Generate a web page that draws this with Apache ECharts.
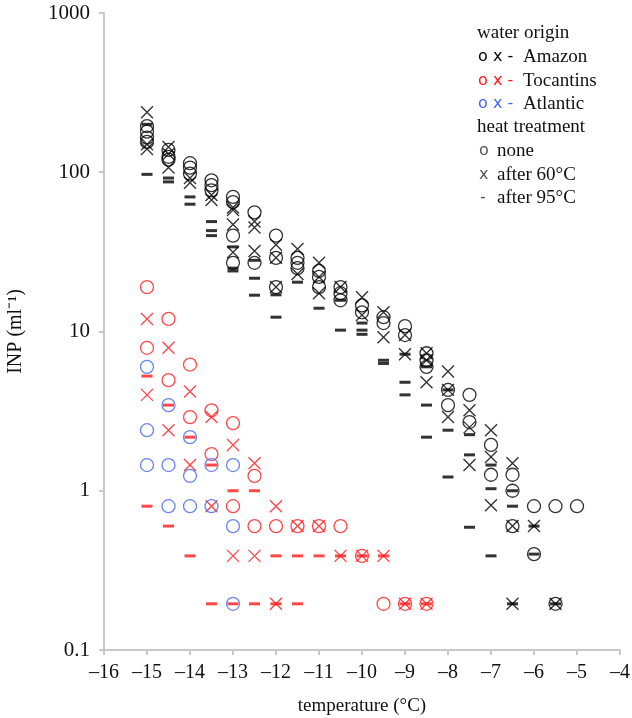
<!DOCTYPE html>
<html>
<head>
<meta charset="utf-8">
<script src="https://cdn.jsdelivr.net/npm/echarts@6/dist/echarts.min.js"></script>
<style>
  html, body { margin: 0; padding: 0; background: #fff; }
  #chart { width: 632px; height: 718px; }
</style>
</head>
<body>
<div id="chart"></div>
<script>
// INP (per ml) vs temperature, [temperature, INP]
var amazonNone = [
    [-15, 195], [-15, 180], [-15, 165], [-15, 155],
    [-14.5, 138], [-14.5, 125], [-14.5, 120],
    [-14, 114], [-14, 107], [-14, 98],
    [-13.5, 89], [-13.5, 83], [-13.5, 77],
    [-13, 70], [-13, 65], [-13, 40], [-13, 27],
    [-12.5, 56], [-12.5, 27],
    [-12, 40], [-12, 29], [-12, 19],
    [-11.5, 29], [-11.5, 27], [-11.5, 25],
    [-11, 24], [-11, 22], [-11, 19],
    [-10.5, 19], [-10.5, 17.4], [-10.5, 15.7],
    [-10, 14.6], [-10, 13.2],
    [-9.5, 12.3], [-9.5, 11.3],
    [-9, 10.8], [-9, 9.5],
    [-8.5, 7.3], [-8.5, 6.6], [-8.5, 6.0],
    [-8, 4.3], [-8, 3.45],
    [-7.5, 4.0], [-7.5, 2.7],
    [-7, 1.94], [-7, 1.26],
    [-6.5, 1.26], [-6.5, 1.0], [-6.5, 0.6],
    [-6, 0.8], [-6, 0.4],
    [-5.5, 0.8], [-5.5, 0.195],
    [-5, 0.8]
];
var amazon60 = [
    [-15, 238], [-15, 150], [-15, 140],
    [-14.5, 144], [-14.5, 130], [-14.5, 107],
    [-14, 92], [-14, 86],
    [-13.5, 72], [-13.5, 67],
    [-13, 60], [-13, 58], [-13, 47], [-13, 31.5],
    [-12.5, 49], [-12.5, 45], [-12.5, 32],
    [-12, 35], [-12, 29], [-12, 19],
    [-11.5, 33], [-11.5, 23],
    [-11, 27], [-11, 22], [-11, 17.4],
    [-10.5, 19],
    [-10, 16.4], [-10, 12.7],
    [-9.5, 13.2], [-9.5, 9.2],
    [-9, 9.5], [-9, 7.2],
    [-8.5, 7.3], [-8.5, 6.6], [-8.5, 4.8],
    [-8, 5.6], [-8, 4.3], [-8, 2.9],
    [-7.5, 3.2], [-7.5, 2.5], [-7.5, 1.45],
    [-7, 2.4], [-7, 1.63], [-7, 0.81],
    [-6.5, 1.49], [-6.5, 0.6], [-6.5, 0.195],
    [-6, 0.6],
    [-5.5, 0.195]
];
var amazon95 = [
    [-15, 200], [-15, 97],
    [-14.5, 92], [-14.5, 87],
    [-14, 70], [-14, 63],
    [-13.5, 49], [-13.5, 43], [-13.5, 40],
    [-13, 34], [-13, 25], [-13, 24],
    [-12.5, 28], [-12.5, 21.6], [-12.5, 16.9],
    [-12, 17], [-12, 12.3],
    [-11.5, 20.4],
    [-11, 14],
    [-10.5, 15.7], [-10.5, 10.2],
    [-10, 11.3], [-10, 10.2], [-10, 9.6],
    [-9.5, 6.6], [-9.5, 6.3],
    [-9, 7.2], [-9, 4.8], [-9, 4.0],
    [-8.5, 6.0], [-8.5, 3.45], [-8.5, 2.17],
    [-8, 4.3], [-8, 2.4], [-8, 1.22],
    [-7.5, 2.25], [-7.5, 1.68], [-7.5, 0.59],
    [-7, 1.45], [-7, 1.03], [-7, 0.39],
    [-6.5, 1.0], [-6.5, 0.8], [-6.5, 0.195],
    [-6, 0.6], [-6, 0.4],
    [-5.5, 0.195]
];
var tocantinsNone = [
    [-15, 19], [-15, 7.9],
    [-14.5, 12], [-14.5, 4.95],
    [-14, 6.2], [-14, 2.9],
    [-13.5, 3.2], [-13.5, 1.7],
    [-13, 2.66], [-13, 0.8],
    [-12.5, 1.24], [-12.5, 0.6],
    [-12, 0.6],
    [-11.5, 0.6],
    [-11, 0.6],
    [-10.5, 0.6],
    [-10, 0.39],
    [-9.5, 0.195],
    [-9, 0.195],
    [-8.5, 0.195]
];
var tocantins60 = [
    [-15, 12], [-15, 4.0],
    [-14.5, 7.9], [-14.5, 2.4],
    [-14, 4.2], [-14, 1.45],
    [-13.5, 2.9], [-13.5, 0.8],
    [-13, 1.94], [-13, 0.39],
    [-12.5, 1.49], [-12.5, 0.39],
    [-12, 0.8], [-12, 0.195],
    [-11.5, 0.6],
    [-11, 0.6],
    [-10.5, 0.39],
    [-10, 0.39],
    [-9.5, 0.39],
    [-9, 0.195],
    [-8.5, 0.195]
];
var tocantins95 = [
    [-15, 5.25], [-15, 0.8],
    [-14.5, 3.45], [-14.5, 0.6],
    [-14, 2.17], [-14, 0.39],
    [-13.5, 1.45], [-13.5, 0.195],
    [-13, 1.0], [-13, 0.195],
    [-12.5, 1.0], [-12.5, 0.195],
    [-12, 0.39], [-12, 0.195],
    [-11.5, 0.39], [-11.5, 0.195],
    [-11, 0.39],
    [-10.5, 0.39],
    [-10, 0.39],
    [-9.5, 0.39],
    [-9, 0.195],
    [-8.5, 0.195]
];
var atlanticNone = [
    [-15, 6.0], [-15, 2.4], [-15, 1.45],
    [-14.5, 3.45], [-14.5, 1.45], [-14.5, 0.8],
    [-14, 2.17], [-14, 1.24], [-14, 0.8],
    [-13.5, 1.45], [-13.5, 0.8],
    [-13, 1.45], [-13, 0.6], [-13, 0.195]
];
var atlantic60 = [];
var atlantic95 = [];

var yTicks = [0.1, 1, 10, 100, 1000];

var black = '#000000', red = '#ff1a1a', blue = '#4466ee';
var crossPath = 'path://M0,0L10,10M10,0L0,10';
var serif = '"Liberation Serif", "Times New Roman", serif';

function circles(data, color) {
    return {
        type: 'scatter', data: data, symbol: 'circle', symbolSize: 13,
        itemStyle: { color: 'transparent', borderColor: color, borderWidth: 1.3 },
        silent: true
    };
}
function crosses(data, color) {
    return {
        type: 'scatter', data: data, symbol: crossPath, symbolSize: 12,
        itemStyle: { color: 'transparent', borderColor: color, borderWidth: 1.4 },
        silent: true
    };
}
function dashes(data, color) {
    return {
        type: 'scatter', data: data, symbol: 'rect', symbolSize: [11, 3],
        itemStyle: { color: color },
        silent: true
    };
}

function legendText(txt, x, y, color, font) {
    return {
        type: 'text', left: x, top: y,
        style: { text: txt, fill: color, font: font, textVerticalAlign: 'middle' }
    };
}

var chart = echarts.init(document.getElementById('chart'));
var lg = '19px ' + serif;
var sym = '16px "DejaVu Sans", sans-serif';
chart.setOption({
    animation: false,
    backgroundColor: '#ffffff',
    grid: { left: 104, right: 12, top: 13, bottom: 68, containLabel: false, outerBoundsMode: 'none' },
    xAxis: {
        type: 'value', min: -16, max: -4, interval: 1,
        name: 'temperature (°C)', nameLocation: 'middle', nameGap: 47,
        nameTextStyle: { fontFamily: serif, fontSize: 19, color: '#111' },
        axisLine: { onZero: false, lineStyle: { color: '#c8c8c8', width: 2 } },
        axisTick: { show: true, length: 5, lineStyle: { color: '#c8c8c8', width: 2 } },
        axisLabel: {
            fontFamily: serif, fontSize: 20, color: '#111', margin: 13,
            formatter: function (v) { return v < 0 ? '\u2013' + Math.abs(v) : String(v); }
        },
        splitLine: { show: false }
    },
    yAxis: {
        type: 'log', logBase: 10, min: yTicks[0], max: yTicks[yTicks.length - 1],
        name: 'INP (ml\u207B\u00B9)', nameLocation: 'middle', nameGap: 78,
        nameTextStyle: { fontFamily: serif, fontSize: 20, color: '#111' },
        axisLine: { show: true, lineStyle: { color: '#c8c8c8', width: 2 } },
        axisTick: { show: true, length: 5, lineStyle: { color: '#c8c8c8', width: 2 } },
        minorTick: { show: false },
        axisLabel: {
            fontFamily: serif, fontSize: 21, color: '#111', margin: 14,
            formatter: function (v) { return String(+v.toPrecision(3)); }
        },
        splitLine: { show: false }
    },
    series: [
        circles(amazonNone, black), crosses(amazon60, black), dashes(amazon95, black),
        circles(tocantinsNone, red), crosses(tocantins60, red), dashes(tocantins95, red),
        circles(atlanticNone, blue), crosses(atlantic60, blue), dashes(atlantic95, blue)
    ],
    graphic: [
        legendText('water origin', 477, 24, '#111', lg),
        legendText('o x -', 478, 49, black, sym),
        legendText('Amazon', 523, 48, '#111', lg),
        legendText('o x -', 478, 73, red, sym),
        legendText('Tocantins', 523, 72, '#111', lg),
        legendText('o x -', 478, 96, blue, sym),
        legendText('Atlantic', 523, 95, '#111', lg),
        legendText('heat treatment', 477, 118, '#111', lg),
        legendText('o', 479, 143, '#555', sym),
        legendText('none', 497, 142, '#111', lg),
        legendText('x', 479, 167, '#555', sym),
        legendText('after 60°C', 497, 166, '#111', lg),
        legendText('-', 480, 190, '#555', sym),
        legendText('after 95°C', 497, 189, '#111', lg)
    ]
});
</script>
</body>
</html>
